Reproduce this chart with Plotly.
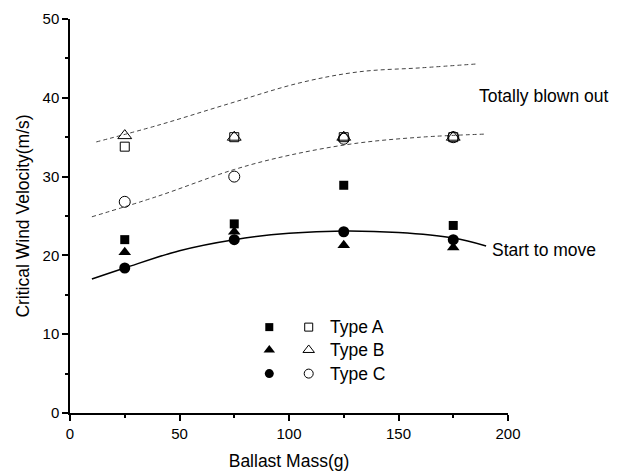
import plotly.graph_objects as go

mass = [25, 75, 125, 175]
typeA_move = [22.0, 24.0, 28.9, 23.8]
typeB_move = [20.4, 23.0, 21.3, 21.0]
typeC_move = [18.4, 22.0, 23.0, 22.0]
typeA_out = [33.8, 35.0, 35.0, 35.0]
typeB_out = [35.2, 35.0, 35.0, 35.0]
typeC_out = [26.8, 30.0, 34.8, 35.0]

move_x = [10, 25, 50, 75, 100, 125, 150, 175, 190]
move_y = [17.0, 18.4, 20.6, 22.0, 22.8, 23.1, 22.9, 22.2, 21.2]
upper_x = [12, 40, 72, 105, 132, 160, 186]
upper_y = [34.4, 36.5, 39.2, 41.9, 43.3, 43.8, 44.3]
lower_x = [10, 40, 75, 100, 130, 160, 190]
lower_y = [24.9, 27.5, 30.9, 32.7, 34.2, 35.0, 35.4]

legend_labels = ["Type A", "Type B", "Type C"]
label_out = "Totally blown out"
label_move = "Start to move"

FONT = "Liberation Sans, Arial, sans-serif"
fig = go.Figure()

fig.add_trace(go.Scatter(x=upper_x, y=upper_y, mode="lines", line=dict(color="#444", width=1, dash="4px,3px", shape="spline")))
fig.add_trace(go.Scatter(x=lower_x, y=lower_y, mode="lines", line=dict(color="#444", width=1, dash="4px,3px", shape="spline")))
fig.add_trace(go.Scatter(x=move_x, y=move_y, mode="lines", line=dict(color="black", width=1.5, shape="spline")))

specs = [
    (typeA_move, "square", 9, True),
    (typeB_move, "triangle-up", 11, True),
    (typeC_move, "circle", 11, True),
    (typeA_out, "square-open", 9, False),
    (typeB_out, "triangle-up-open", 12, False),
    (typeC_out, "circle-open", 11, False),
]
for ys, sym, sz, filled in specs:
    fig.add_trace(go.Scatter(x=mass, y=ys, mode="markers",
                             marker=dict(symbol=sym, size=sz, color="black",
                                         line=dict(color="black", width=1 if not filled else 0))))

# legend keys
leg_syms = [("square", "square-open", 8), ("triangle-up", "triangle-up-open", 10), ("circle", "circle-open", 9)]
leg_y = [10.9, 8.0, 5.0]
for (fs, os_, sz), ly, lab in zip(leg_syms, leg_y, legend_labels):
    fig.add_trace(go.Scatter(x=[91], y=[ly], mode="markers", marker=dict(symbol=fs, size=sz, color="black")))
    fig.add_trace(go.Scatter(x=[109], y=[ly], mode="markers", marker=dict(symbol=os_, size=sz, color="black", line=dict(width=1, color="black"))))
    fig.add_annotation(x=118, y=ly, text=lab, showarrow=False, xanchor="left", yanchor="middle",
                       font=dict(family=FONT, size=17.5, color="black"))

fig.add_annotation(x=186, y=40.2, text=label_out, showarrow=False, xanchor="left", yanchor="middle",
                   font=dict(family=FONT, size=17.5, color="black"))
fig.add_annotation(x=192, y=20.7, text=label_move, showarrow=False, xanchor="left", yanchor="middle",
                   font=dict(family=FONT, size=17.5, color="black"))

axis_common = dict(showline=True, linecolor="black", linewidth=1.5, ticks="outside", ticklen=6,
                   tickwidth=1.5, tickcolor="black", showgrid=False, zeroline=False, automargin=False,
                   tickfont=dict(family=FONT, size=15, color="black"))
fig.update_xaxes(range=[0, 200], dtick=50, title=dict(text="Ballast Mass(g)", font=dict(family=FONT, size=17.5, color="black"), standoff=14),
                 minor=dict(ticks="outside", dtick=25, ticklen=3, tickcolor="black", tickwidth=1.5), **axis_common)
fig.update_yaxes(range=[0, 50], dtick=10, title=dict(text="Critical Wind Velocity(m/s)", font=dict(family=FONT, size=17.5, color="black"), standoff=8),
                 minor=dict(ticks="outside", dtick=5, ticklen=3, tickcolor="black", tickwidth=1.5), **axis_common)

fig.update_layout(width=617, height=467, showlegend=False, plot_bgcolor="white", paper_bgcolor="white",
                  margin=dict(l=62, r=117, t=11, b=62))
fig.write_html("out.html")
